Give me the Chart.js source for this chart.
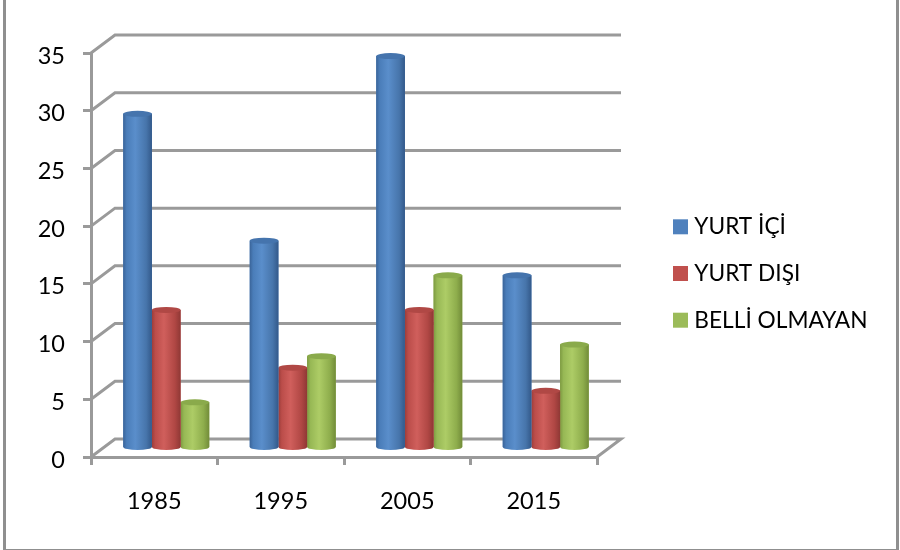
<!DOCTYPE html>
<html><head><meta charset="utf-8">
<style>
html,body{margin:0;padding:0;background:#fff;overflow:hidden;width:900px;height:550px}
#wrap{position:relative;width:900px;height:550px;overflow:hidden}
#frame{position:absolute;left:3px;top:-10px;width:890px;height:556px;border:3px solid #8f8f8f;pointer-events:none}
canvas{position:absolute;left:0;top:0}
</style>
<script src="https://cdn.jsdelivr.net/npm/chart.js@4"></script>
</head><body>
<div id="wrap"><canvas id="c" width="900" height="550"></canvas><div id="frame"></div></div>
<script>
const categories = ['1985','1995','2005','2015'];
const yurtIci = [29,18,34,15];
const yurtDisi = [12,7,12,5];
const belliOlmayan = [4,8,15,9];
const seriesNames = ['YURT İÇİ','YURT DIŞI','BELLİ OLMAYAN'];
const seriesColors = ['#4F81BD','#C0504D','#9BBB59'];
const shade = [
  ['#3a6499','#4a7db9','#5a8ecb','#4775ab','#33598a','#4574ad'],
  ['#9c3d3a','#bb4d4a','#d05f5c','#b04744','#8f3835','#b04845'],
  ['#7d9a41','#97b855','#adcc66','#8ead4c','#728c39','#8aaa4b']
];
const wallDX = 24, wallDY = -18, barDX = 12, barDY = -8.5, capRY = 3;
const gridColor = '#9a9a9a';

const wall3d = {
  id:'wall3d',
  beforeLayout(chart){
    const leg = chart.legend;
    if(!leg || leg._wide) return;
    leg._wide = true;
    const u = leg.update;
    leg.update = function(w,h,m){ u.call(this,303,h,m); this.width = 303; };
  },
  afterLayout(chart){
    const leg = chart.legend;
    leg.left = 654;
    leg.top -= 28; leg.bottom -= 28;
  },
  beforeDatasetsDraw(chart){
    const {ctx,scales:{x,y}} = chart;
    ctx.save();
    ctx.strokeStyle = gridColor; ctx.lineWidth = 3;
    const L = x.left, R = x.right;
    y.ticks.forEach(t=>{
      const py = y.getPixelForValue(t.value);
      ctx.beginPath();
      ctx.moveTo(L,py);
      ctx.lineTo(L+wallDX,py+wallDY);
      ctx.lineTo(R+wallDX,py+wallDY);
      if(t.value===0) ctx.lineTo(R,py);
      ctx.stroke();
    });
    ctx.restore();
    ctx.save();
    ctx.translate(barDX,barDY);
  },
  afterDatasetDraw(chart,args){
    const {ctx} = chart;
    const meta = chart.getDatasetMeta(args.index);
    const s = shade[args.index];
    meta.data.forEach(b=>{
      const p = b.getProps(['x','y','base','width'],true);
      const l = p.x-p.width/2, r = p.x+p.width/2, cx = p.x, rx = p.width/2;
      const g = ctx.createLinearGradient(l,0,r,0);
      g.addColorStop(0,s[0]); g.addColorStop(.12,s[1]); g.addColorStop(.42,s[2]);
      g.addColorStop(.8,s[3]); g.addColorStop(1,s[4]);
      ctx.save();
      ctx.fillStyle = g;
      ctx.beginPath();
      ctx.moveTo(l,p.y);
      ctx.lineTo(l,p.base);
      ctx.ellipse(cx,p.base,rx,capRY,0,Math.PI,0,true);
      ctx.lineTo(r,p.y);
      ctx.closePath();
      ctx.fill();
      ctx.fillStyle = s[5];
      ctx.beginPath();
      ctx.ellipse(cx,p.y,rx,capRY,0,0,Math.PI*2);
      ctx.fill();
      ctx.restore();
    });
  },
  afterDatasetsDraw(chart){ chart.ctx.restore(); }
};

const tickFont = {family:'Lato',size:23.5};
new Chart(document.getElementById('c'),{
  type:'bar',
  data:{labels:categories,datasets:[
    {label:seriesNames[0],data:yurtIci,backgroundColor:seriesColors[0]},
    {label:seriesNames[1],data:yurtDisi,backgroundColor:seriesColors[1]},
    {label:seriesNames[2],data:belliOlmayan,backgroundColor:seriesColors[2]}
  ]},
  plugins:[wall3d],
  options:{
    responsive:false,animation:false,
    layout:{padding:{top:53,bottom:0,left:0,right:0}},
    datasets:{bar:{categoryPercentage:.68,barPercentage:1,clip:false}},
    scales:{
      x:{offset:true,
        grid:{drawOnChartArea:false,drawTicks:true,tickLength:8,color:gridColor,lineWidth:3},
        border:{color:gridColor,width:3},
        ticks:{color:'#000',font:tickFont,padding:22,maxRotation:0},
        afterFit(s){s.height=93;}
      },
      y:{min:0,max:35,
        grid:{drawOnChartArea:false,drawTicks:true,tickLength:8,color:gridColor,lineWidth:3},
        border:{color:gridColor,width:3},
        ticks:{color:'#000',font:tickFont,padding:18,stepSize:5,labelOffset:3},
        afterFit(s){s.width=91;}
      }
    },
    plugins:{
      tooltip:{enabled:false},
      legend:{position:'right',align:'center',
        labels:{color:'#000',font:{family:'Lato',size:22.7},usePointStyle:true,pointStyle:'rect',boxWidth:5,boxHeight:15,padding:24}
      }
    }
  }
});
</script>
</body></html>
